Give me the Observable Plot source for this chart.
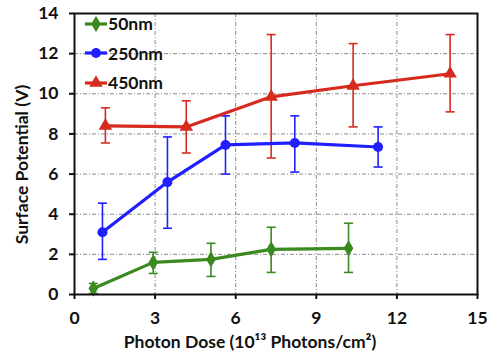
<!DOCTYPE html>
<html>
<head>
<meta charset="utf-8">
<script src="https://cdn.jsdelivr.net/npm/d3@7"></script>
<script src="https://cdn.jsdelivr.net/npm/@observablehq/plot@0.6"></script>
<style>
  html, body { margin: 0; padding: 0; background: #fff; }
  #wrap { position: relative; width: 490px; height: 351px; font-family: Lato, "Open Sans", sans-serif; }
  #legend { position: absolute; left: 84px; top: 9px; font-weight: bold; font-size: 17.5px; color: #111; }
  .row { display: flex; align-items: center; height: 29.5px; }
  .row svg { display: block; }
</style>
</head>
<body>
<div id="wrap">
  <div id="chart"></div>
  <div id="legend"></div>
</div>
<script>
const seriesNames = ["50nm", "250nm", "450nm"];
const seriesColors = ["#3b8a1f", "#1f1fff", "#d62a1e"];
const seriesSymbols = ["diamond", "circle", "triangle"];

const dose50  = [0.7, 2.93, 5.08, 7.32, 10.2];
const v50     = [0.3, 1.6, 1.75, 2.25, 2.3];
const lo50    = [0.05, 1.05, 0.9, 1.1, 1.1];
const hi50    = [0.55, 2.1, 2.55, 3.35, 3.55];

const dose250 = [1.04, 3.46, 5.62, 8.2, 11.3];
const v250    = [3.1, 5.6, 7.45, 7.55, 7.35];
const lo250   = [1.75, 3.3, 6.0, 6.1, 6.35];
const hi250   = [4.55, 7.85, 8.9, 8.9, 8.35];

const dose450 = [1.15, 4.16, 7.32, 10.37, 13.98];
const v450    = [8.4, 8.35, 9.85, 10.4, 11.0];
const lo450   = [7.55, 7.05, 6.8, 8.35, 9.1];
const hi450   = [9.3, 9.65, 12.95, 12.5, 12.95];

const xTicks = [0, 3, 6, 9, 12, 15];
const yTicks = [0, 2, 4, 6, 8, 10, 12, 14];
const xLabel = "Photon Dose (10¹³ Photons/cm²)";
const yLabel = "Surface Potential (V)";

const raw = [
  [dose50, v50, lo50, hi50],
  [dose250, v250, lo250, hi250],
  [dose450, v450, lo450, hi450]
];
const data = [];
raw.forEach(([xs, vs, los, his], s) => {
  xs.forEach((x, i) => data.push({series: seriesNames[s], x, v: vs[i], lo: los[i], hi: his[i]}));
});

const capSymbol = {
  draw(context, size) {
    const w = 4.5;
    context.moveTo(-w, 0);
    context.lineTo(w, 0);
  }
};

const colorScale = {domain: seriesNames, range: seriesColors};
const symbolScale = {domain: seriesNames, range: seriesSymbols};

const chart = Plot.plot({
  width: 490,
  height: 351,
  marginLeft: 74,
  marginRight: 13,
  marginTop: 13,
  marginBottom: 57,
  style: {fontFamily: "Lato, 'Open Sans', sans-serif", background: "#fff"},
  x: {domain: [0, 15]},
  y: {domain: [0, 14]},
  color: colorScale,
  symbol: symbolScale,
  marks: [
    Plot.ruleY(yTicks.slice(1, -1), {stroke: "#8a8a8a", strokeWidth: 1, strokeDasharray: "4,2,1,2"}),
    Plot.ruleX(xTicks.slice(1, -1), {stroke: "#8a8a8a", strokeWidth: 1, strokeDasharray: "4,2,1,2"}),
    Plot.axisY({ticks: yTicks, tickSize: 5, tickPadding: 11, fontSize: 17.5, fontWeight: "bold", label: null, tickFormat: d => d, stroke: "#111", strokeWidth: 2, color: "#111"}),
    Plot.axisX({ticks: xTicks, tickSize: 5, tickPadding: 12, fontSize: 17.5, fontWeight: "bold", label: null, tickFormat: d => d, stroke: "#111", strokeWidth: 2, color: "#111"}),
    Plot.ruleX(data, {x: "x", y1: "lo", y2: "hi", stroke: "series", strokeWidth: 1.6}),
    Plot.dot(data, {x: "x", y: "lo", symbol: capSymbol, stroke: "series", strokeWidth: 1.6, r: 4}),
    Plot.dot(data, {x: "x", y: "hi", symbol: capSymbol, stroke: "series", strokeWidth: 1.6, r: 4}),
    Plot.line(data, {x: "x", y: "v", z: "series", stroke: "series", strokeWidth: 3.2}),
    Plot.dot(data, {x: "x", y: "v", symbol: "series", fill: "series", r: 5}),
    Plot.frame({stroke: "#111", strokeWidth: 2}),
    Plot.text([yLabel], {frameAnchor: "left", textAnchor: "middle", rotate: -90, dx: -52, dy: 10.5, fontSize: 17.5, fontWeight: "bold", fill: "#111"}),
    Plot.text([xLabel], {frameAnchor: "bottom", lineAnchor: "middle", dy: 47.5, dx: -26, fontSize: 17.5, fontWeight: "bold", fill: "#111"})
  ]
});
document.getElementById("chart").appendChild(chart);

const legend = document.getElementById("legend");
seriesNames.forEach((name, i) => {
  const row = document.createElement("div");
  row.className = "row";
  const svg = d3.create("svg").attr("width", 24).attr("height", 16);
  svg.append("line").attr("x1", 1).attr("x2", 23).attr("y1", 8).attr("y2", 8)
    .attr("stroke", seriesColors[i]).attr("stroke-width", 3.2);
  const symType = {diamond: d3.symbolDiamond, circle: d3.symbolCircle, triangle: d3.symbolTriangle}[seriesSymbols[i]];
  svg.append("path").attr("transform", "translate(12,8)")
    .attr("d", d3.symbol(symType, 78)()).attr("fill", seriesColors[i]);
  row.appendChild(svg.node());
  const t = document.createElement("span");
  t.textContent = name;
  row.appendChild(t);
  legend.appendChild(row);
});
</script>
</body>
</html>
